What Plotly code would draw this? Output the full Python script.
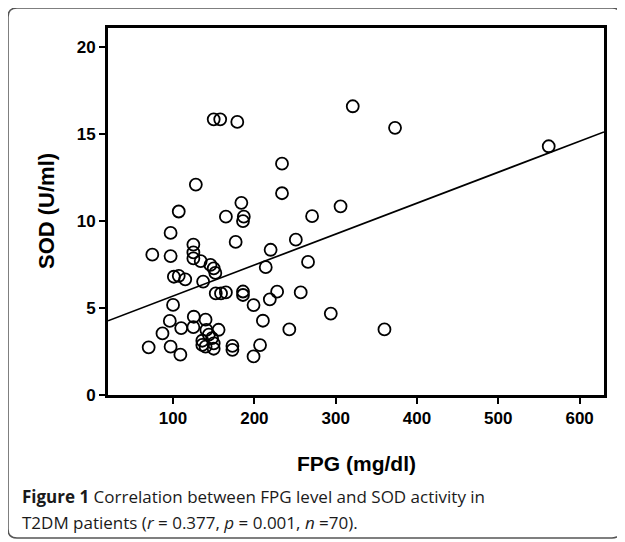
import plotly.graph_objects as go

# FPG (mg/dl) and SOD (U/ml)
fpg = [150, 158, 179, 321, 373, 562, 234, 234, 128, 184,
       107, 306, 271, 165, 187, 186, 97, 125, 125, 125,
       74.5, 97, 177, 251, 220, 214, 266, 134, 146, 150,
       152, 101, 107, 115, 137, 100, 152.5, 159, 165, 186,
       186, 199, 219, 228, 257, 294, 243, 210.5, 96, 125.5,
       140, 87, 110, 125, 141, 156, 144, 148, 136, 136,
       140, 150, 150, 70, 97, 109, 173, 173, 207, 199, 360]
sod = [15.85, 15.85, 15.7, 16.6, 15.36, 14.3, 13.3, 11.6, 12.1, 11.05,
       10.55, 10.85, 10.28, 10.25, 10.25, 10.0, 9.32, 8.65, 8.2, 7.85,
       8.07, 7.98, 8.8, 8.93, 8.35, 7.35, 7.65, 7.7, 7.48, 7.28,
       7.02, 6.8, 6.85, 6.65, 6.52, 5.18, 5.84, 5.84, 5.9, 5.95,
       5.75, 5.17, 5.5, 5.94, 5.9, 4.68, 3.77, 4.27, 4.26, 4.5,
       4.33, 3.54, 3.85, 3.9, 3.74, 3.75, 3.47, 3.27, 3.12, 2.88,
       2.78, 2.97, 2.66, 2.74, 2.78, 2.32, 2.82, 2.6, 2.87, 2.22, 3.77]

# fitted line
fit_intercept = 3.91
fit_slope = 0.0178

x_range = [20, 630]
y_range = [0, 21.1]
x_ticks = [100, 200, 300, 400, 500, 600]
y_ticks = [0, 5, 10, 15, 20]

# the page body has an 8px default margin, so the figure is sized and
# positioned in window pixels minus that offset
OFF = 8
W, H = 625 - OFF, 542 - OFF
PL, PR, PT, PB = 108, 604, 28, 395          # plot box in window pixels
ML, MT = PL - OFF, PT - OFF
MR, MB = W - (PR - OFF), H - (PB - OFF)
PW, PH = W - ML - MR, H - MT - MB


def px(x):
    return (x - OFF - ML) / PW


def py(y):
    return (H - MB - (y - OFF)) / PH


fig = go.Figure()
fig.add_trace(go.Scatter(
    x=fpg, y=sod, mode="markers",
    marker=dict(symbol="circle-open", size=12, color="black",
                line=dict(width=1.8, color="black")),
    showlegend=False, hoverinfo="skip"))

fit_x = x_range
fit_y = [fit_intercept + fit_slope * v for v in fit_x]
fig.add_trace(go.Scatter(
    x=fit_x, y=fit_y, mode="lines",
    line=dict(color="black", width=1.7),
    showlegend=False, hoverinfo="skip"))

axis_common = dict(
    showline=True, linecolor="black", linewidth=3, mirror=True,
    ticks="outside", ticklen=6, tickwidth=2, tickcolor="black",
    showgrid=False, zeroline=False,
    tickfont=dict(family="Liberation Sans Narrow, Liberation Sans, Arial, sans-serif",
                  size=17, color="black", weight="bold"),
)
fig.update_xaxes(range=x_range, tickvals=x_ticks, **axis_common)
fig.update_yaxes(range=y_range, tickvals=y_ticks, **axis_common)

# rounded frame round the whole figure
x0, x1, y0, y1, r = px(8), px(621), py(8), py(538), 9
rx, ry = r / PW, r / PH
path = (f"M {x0+rx},{y0} L {x1-rx},{y0} Q {x1},{y0} {x1},{y0-ry} "
        f"L {x1},{y1+ry} Q {x1},{y1} {x1-rx},{y1} "
        f"L {x0+rx},{y1} Q {x0},{y1} {x0},{y1+ry} "
        f"L {x0},{y0-ry} Q {x0},{y0} {x0+rx},{y0} Z")
fig.add_shape(type="path", path=path, xref="paper", yref="paper",
              line=dict(color="#555555", width=1.5), layer="below")

title_font_x = dict(family="Liberation Sans, Arial, sans-serif", size=21,
                    color="black", weight="bold")
title_font_y = dict(family="Liberation Sans, Arial, sans-serif", size=22,
                    color="black", weight="bold")
fig.add_annotation(text="FPG (mg/dl)", x=px(356), y=py(463), xref="paper",
                   yref="paper", showarrow=False, font=title_font_x,
                   xanchor="center", yanchor="middle")
fig.add_annotation(text="SOD (U/ml)", x=px(46), y=py(211), xref="paper",
                   yref="paper", showarrow=False, font=title_font_y,
                   textangle=-90, xanchor="center", yanchor="middle")

cap_font = dict(family="Open Sans, Noto Sans, sans-serif", size=17,
                color="#1a1a1a")
fig.add_annotation(
    text="<b>Figure 1</b> Correlation between FPG level and SOD activity in",
    x=px(20), y=py(497), xref="paper", yref="paper", showarrow=False,
    font=cap_font, xanchor="left", yanchor="middle")
fig.add_annotation(
    text="T2DM patients (<i>r</i> = 0.377, <i>p</i> = 0.001, <i>n</i> =70).",
    x=px(20), y=py(522), xref="paper", yref="paper", showarrow=False,
    font=cap_font, xanchor="left", yanchor="middle")

fig.update_layout(
    width=W, height=H,
    margin=dict(l=ML, r=MR, t=MT, b=MB, pad=0),
    paper_bgcolor="white", plot_bgcolor="white",
)

fig.write_html("out.html")
